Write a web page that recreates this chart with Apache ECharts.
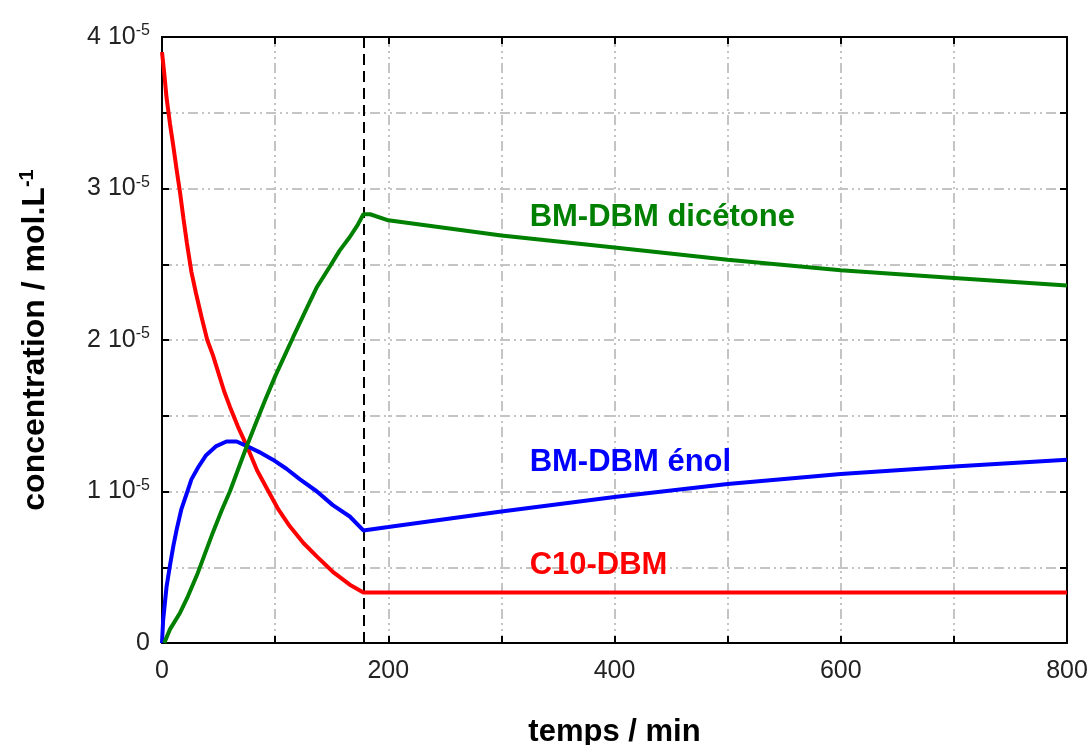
<!DOCTYPE html>
<html>
<head>
<meta charset="utf-8">
<script src="https://cdn.jsdelivr.net/npm/echarts@6/dist/echarts.min.js"></script>
<style>
html,body{margin:0;padding:0;background:#fff;}
#chart{width:1090px;height:745px;}
</style>
</head>
<body>
<div id="chart"></div>
<script>
// concentrations in units of 1e-5 mol/L, time in min
const redT   = [0, 2, 4, 7, 10, 13, 16, 19, 22, 26, 30, 35, 40, 45, 50, 55, 60, 67, 75, 84, 92, 103, 113, 125, 137, 151, 166, 178, 800];
const redC   = [3.90, 3.76, 3.60, 3.43, 3.28, 3.12, 2.97, 2.80, 2.64, 2.45, 2.31, 2.15, 2.00, 1.90, 1.78, 1.66, 1.56, 1.43, 1.30, 1.14, 1.03, 0.88, 0.77, 0.66, 0.57, 0.47, 0.385, 0.334, 0.334];
const blueT  = [0, 1, 4, 7, 10, 13, 17, 22, 26, 32, 39, 48, 57, 66, 75, 86, 98, 110, 122, 137, 151, 166, 178, 200, 300, 400, 500, 600, 700, 800];
const blueC  = [0, 0.15, 0.37, 0.51, 0.64, 0.75, 0.88, 0.99, 1.08, 1.16, 1.24, 1.30, 1.33, 1.33, 1.30, 1.26, 1.21, 1.15, 1.08, 1.00, 0.91, 0.835, 0.743, 0.765, 0.868, 0.963, 1.049, 1.115, 1.165, 1.21];
const greenT = [2, 7, 16, 23, 31, 38, 45, 53, 60, 67, 75, 84, 91, 100, 108, 116, 128, 137, 148, 157, 166, 173, 178, 184, 200, 300, 400, 500, 600, 700, 800];
const greenC = [0, 0.09, 0.20, 0.31, 0.45, 0.59, 0.73, 0.88, 1.00, 1.14, 1.30, 1.47, 1.60, 1.76, 1.89, 2.02, 2.21, 2.35, 2.48, 2.59, 2.68, 2.76, 2.83, 2.83, 2.79, 2.69, 2.61, 2.53, 2.46, 2.41, 2.36];
const switchTime = 178;
const seriesNames = ['C10-DBM', 'BM-DBM énol', 'BM-DBM dicétone'];
const labelAnchors = [[325, 0.51], [325, 1.19], [325, 2.81]];
const xLabelStep = 200;

const FONT = "'Liberation Sans', Arial, sans-serif";
const zip = (a, b) => a.map((v, i) => [v, b[i]]);

const gridLine = {show: true, lineStyle: {color: '#c4c4c4', width: 2, type: [10, 4, 2, 4, 2, 4]}};
const axisLine = {show: true, onZero: false, lineStyle: {color: '#000', width: 2}};
const tick = {show: true, inside: true, length: 7, lineStyle: {color: '#000', width: 2}};

function mk(name, data, color, anchor, extra) {
  return Object.assign({
    name, type: 'line', data, showSymbol: false, symbol: 'none',
    lineStyle: {color, width: 4}, itemStyle: {color}, z: 5, animation: false,
    markPoint: {
      symbol: 'circle', symbolSize: 0, silent: true, animation: false,
      data: [{coord: anchor}],
      label: {show: true, position: 'right', distance: 0, formatter: name,
        color, fontSize: 31, fontFamily: FONT, fontWeight: 'bold'}
    }
  }, extra || {});
}

const chart = echarts.init(document.getElementById('chart'));
chart.setOption({
  backgroundColor: '#fff',
  animation: false,
  grid: {left: 162, right: 23, top: 37, bottom: 102, containLabel: false, outerBoundsMode: 'none'},
  xAxis: [{
    type: 'value', min: 0, max: 800, interval: 100, position: 'bottom',
    axisLine, axisTick: tick, splitLine: gridLine,
    axisLabel: {color: '#222', fontSize: 25, fontFamily: FONT, margin: 16,
      formatter: v => (v % xLabelStep === 0 ? String(v) : '')},
    name: 'temps / min', nameLocation: 'middle', nameGap: 74,
    nameTextStyle: {color: '#000', fontSize: 31, fontWeight: 'bold', fontFamily: FONT}
  }, {
    type: 'value', min: 0, max: 800, interval: 100, position: 'top',
    axisLine, axisTick: tick, splitLine: {show: false}, axisLabel: {show: false}
  }],
  yAxis: [{
    type: 'value', min: 0, max: 4, interval: 0.5, position: 'left',
    axisLine, axisTick: tick, splitLine: gridLine,
    axisLabel: {color: '#222', fontSize: 25, fontFamily: FONT, margin: 12,
      formatter: v => {
        if (v === 0) return '0';
        if (Math.abs(v - Math.round(v)) < 1e-9) return '{n|' + Math.round(v) + ' 10}{s|-5}';
        return '';
      },
      rich: {
        n: {fontSize: 25, color: '#222', fontFamily: FONT},
        s: {fontSize: 16, color: '#222', fontFamily: FONT, verticalAlign: 'top', padding: [0, 0, 12, 0]}
      }
    },
    name: '{a|concentration / mol.L}{s|-1}', nameLocation: 'middle', nameGap: 109,
    nameTextStyle: {
      rich: {
        a: {fontSize: 32, fontWeight: 'bold', color: '#000', fontFamily: FONT},
        s: {fontSize: 20, fontWeight: 'bold', color: '#000', fontFamily: FONT, padding: [0, 0, 16, 0]}
      }
    }
  }, {
    type: 'value', min: 0, max: 4, interval: 0.5, position: 'right',
    axisLine, axisTick: tick, splitLine: {show: false}, axisLabel: {show: false}
  }],
  series: [
    mk(seriesNames[0], zip(redT, redC), '#ff0000', labelAnchors[0], {
      markLine: {
        silent: true, animation: false, symbol: ['none', 'none'],
        label: {show: false},
        lineStyle: {color: '#000', width: 2, type: [11, 6]},
        data: [{xAxis: switchTime}]
      }
    }),
    mk(seriesNames[1], zip(blueT, blueC), '#0000ff', labelAnchors[1]),
    mk(seriesNames[2], zip(greenT, greenC), '#008000', labelAnchors[2])
  ]
});
</script>
</body>
</html>
